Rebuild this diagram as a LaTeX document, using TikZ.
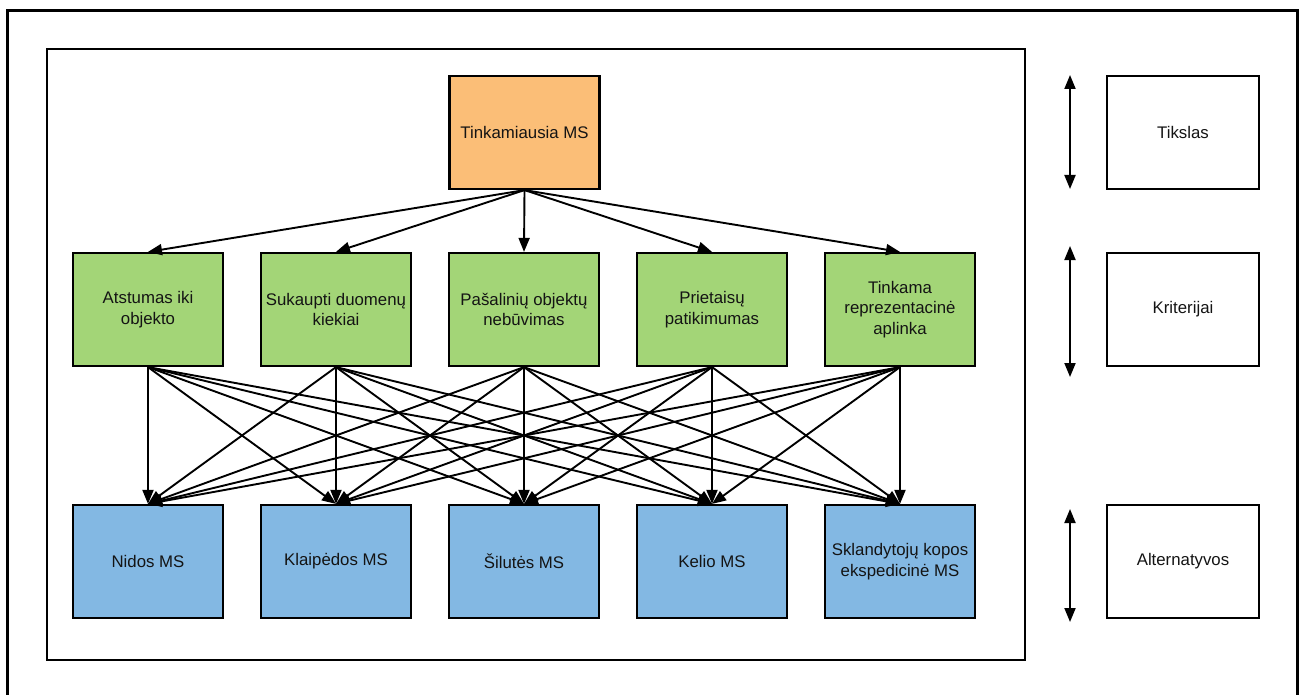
\documentclass[tikz,border=0pt]{standalone}
\usepackage{fontspec}
\setmainfont{Liberation Sans}
\usetikzlibrary{arrows.meta}
\definecolor{goalfill}{HTML}{FBBE77}
\definecolor{critfill}{HTML}{A3D577}
\definecolor{altfill}{HTML}{83B8E3}
\definecolor{txt}{HTML}{141414}
\begin{document}
\begin{tikzpicture}[x=1pt,y=-1pt,
  box/.style={draw=black,line width=2.2pt,minimum width=150pt,minimum height=113pt,
    inner sep=0pt,align=center,text=txt,font=\fontsize{16.8}{20.5}\selectfont},
  goal/.style={box,fill=goalfill},
  crit/.style={box,fill=critfill},
  alt/.style={box,fill=altfill},
  level/.style={box,fill=white,minimum width=152pt},
  link/.style={line width=1.9pt,-{Triangle[length=14pt,width=11pt]}},
  span/.style={line width=1.9pt,{Triangle[length=14pt,width=11pt]}-{Triangle[length=14pt,width=11pt]}}]
\useasboundingbox (0,0) rectangle (1305,695);
% outer frame (bottom edge lies below the page)
\draw[line width=3.8pt] (7.5,700) -- (7.5,10.5) -- (1297.5,10.5) -- (1297.5,700);
% inner frame around the hierarchy
\draw[line width=2pt] (47,49) rectangle (1025,660);

% goal
\node[goal] (top) at (524.5,132.5) {Tinkamiausia MS};

% criteria
\node[crit] (c1) at (148,309.5) {Atstumas iki\\objekto};
\node[crit] (c2) at (336,309.5) {Sukaupti duomenų\\kiekiai};
\node[crit] (c3) at (524,309.5) {Pašalinių objektų\\nebūvimas};
\node[crit] (c4) at (712,309.5) {Prietaisų\\patikimumas};
\node[crit] (c5) at (900,309.5) {Tinkama\\reprezentacinė\\aplinka};

% alternatives
\node[alt] (a1) at (148,561.5) {Nidos MS};
\node[alt] (a2) at (336,561.5) {Klaipėdos MS};
\node[alt] (a3) at (524,561.5) {Šilutės MS};
\node[alt] (a4) at (712,561.5) {Kelio MS};
\node[alt] (a5) at (900,561.5) {Sklandytojų kopos\\ekspedicinė MS};

% goal to criteria
\foreach \i in {1,...,5} \draw[link] (top.south) -- (c\i.north);
% criteria to alternatives
\foreach \i in {1,...,5} \foreach \j in {1,...,5} \draw[link] (c\i.south) -- (a\j.north);

% level labels
\node[level] (r1) at (1183,132.5) {Tikslas};
\node[level] (r2) at (1183,309.5) {Kriterijai};
\node[level] (r3) at (1183,561.5) {Alternatyvos};

% level extents
\coordinate (s1t) at (1070,75);
\coordinate (s1b) at (1070,189);
\coordinate (s2t) at (1070,246);
\coordinate (s2b) at (1070,377);
\coordinate (s3t) at (1070,509);
\coordinate (s3b) at (1070,622);
\draw[span] (s1t) -- (s1b);
\draw[span] (s2t) -- (s2b);
\draw[span] (s3t) -- (s3b);
\end{tikzpicture}
\end{document}
